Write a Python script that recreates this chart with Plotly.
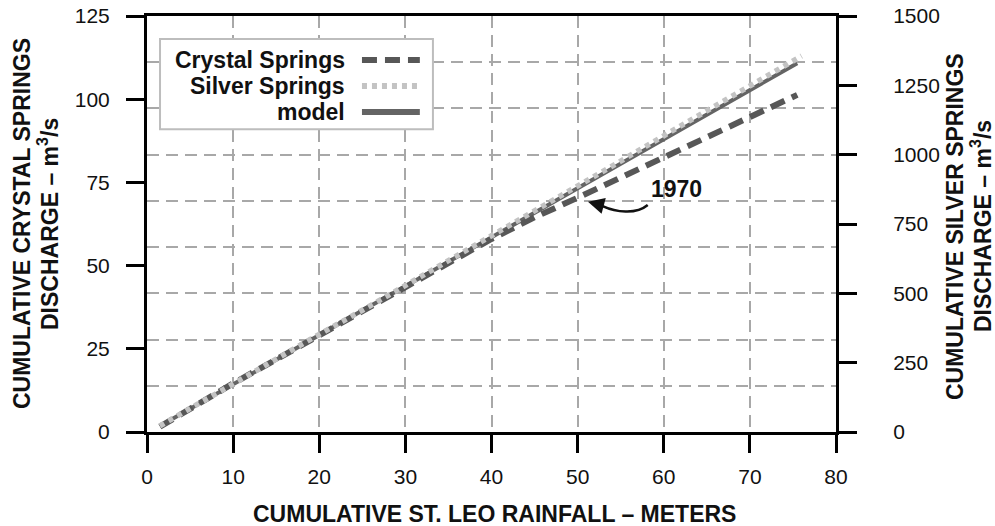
import plotly.graph_objects as go

# ---- data ----
rainfall = [1.5, 5, 10, 15, 20, 25, 30, 35, 40, 42, 45, 50, 55, 60, 65, 70, 75.5]
crystal = [1.6, 7.0, 14.6, 21.8, 29.1, 36.4, 43.7, 51.0, 58.0, 60.6, 64.5, 70.4, 76.4, 82.3, 88.4, 94.6, 101.3]
silver_rainfall = [1.5, 5, 10, 15, 20, 25, 30, 35, 40, 42, 45, 50, 55, 60, 65, 70, 76]
silver = [22, 85, 176, 264, 352, 439, 528, 618, 708, 743, 797, 887, 977, 1068, 1158, 1250, 1356]
model = [1.8, 7.0, 14.5, 21.8, 29.2, 36.5, 43.8, 51.2, 58.6, 61.5, 65.9, 73.2, 80.6, 88.0, 95.3, 102.7, 110.8]

x_ticks = [0, 10, 20, 30, 40, 50, 60, 70, 80]
y_ticks = [0, 25, 50, 75, 100, 125]
y2_ticks = [0, 250, 500, 750, 1000, 1250, 1500]

series_names = ["Crystal Springs", "Silver Springs", "model"]
annotation_label = "1970"
left_title = ["CUMULATIVE CRYSTAL SPRINGS", "DISCHARGE – m<sup>3</sup>/s"]
right_title = ["CUMULATIVE SILVER SPRINGS", "DISCHARGE – m<sup>3</sup>/s"]
x_title = "CUMULATIVE ST. LEO RAINFALL – METERS"

FONT = "Liberation Sans, Arial, Helvetica, sans-serif"
C_CRYSTAL = "#575757"
C_SILVER = "#c3c3c3"
C_MODEL = "#646464"
GRID = "#a8a8a8"

fig = go.Figure()
fig.add_trace(go.Scatter(x=rainfall, y=model, mode="lines", name=series_names[2],
                         line=dict(color=C_MODEL, width=4), showlegend=False))
fig.add_trace(go.Scatter(x=rainfall, y=crystal, mode="lines", name=series_names[0],
                         line=dict(color=C_CRYSTAL, width=6, dash="15px,8px"), showlegend=False))
fig.add_trace(go.Scatter(x=silver_rainfall, y=silver, mode="lines", name=series_names[1], yaxis="y2",
                         line=dict(color=C_SILVER, width=5.5, dash="5px,5px"), showlegend=False))

tickfont = dict(family=FONT, size=21, color="#111")

fig.update_layout(
    width=995, height=526,
    margin=dict(l=147, r=159, t=16, b=94, autoexpand=False),
    paper_bgcolor="white", plot_bgcolor="white",
    showlegend=False,
    xaxis=dict(range=[0, 80], tickvals=x_ticks, ticks="outside", ticklen=18, tickwidth=3,
               tickcolor="black", showline=True, linewidth=3, linecolor="black", mirror=True,
               showgrid=True, gridcolor=GRID, gridwidth=1.5, griddash="12px,7px",
               zeroline=False, tickfont=tickfont, ticklabelstandoff=6, automargin=False),
    yaxis=dict(range=[0, 125], tickvals=y_ticks, ticks="outside", ticklen=18, tickwidth=3,
               tickcolor="black", showline=True, linewidth=3, linecolor="black",
               showgrid=False, zeroline=False, tickfont=tickfont, ticklabelstandoff=12,
               automargin=False,
               minor=dict(dtick=125 / 9, tick0=0, showgrid=True, gridcolor=GRID,
                          gridwidth=1.5, griddash="12px,7px", ticks="")),
    yaxis2=dict(range=[0, 1500], tickvals=y2_ticks, overlaying="y", side="right",
                ticks="outside", ticklen=18, tickwidth=3, tickcolor="black",
                showline=True, linewidth=3, linecolor="black", showgrid=False,
                zeroline=False, tickfont=tickfont, ticklabelstandoff=32, automargin=False),
)

# ---- axis titles (one annotation per line) ----
tfont = dict(family=FONT, size=23, color="#111")
for xp, txt in zip([-0.1814, -0.1437], left_title):
    fig.add_annotation(xref="paper", yref="paper", x=xp, y=0.5, xanchor="center", yanchor="middle",
                       textangle=-90, showarrow=False, font=tfont, text="<b>" + txt + "</b>")
for xp, txt in zip([1.1727, 1.2105], right_title):
    fig.add_annotation(xref="paper", yref="paper", x=xp, y=0.495, xanchor="center", yanchor="middle",
                       textangle=-90, showarrow=False, font=tfont, text="<b>" + txt + "</b>")
fig.add_annotation(xref="paper", yref="paper", x=0.505, y=-0.197, xanchor="center", yanchor="middle",
                   showarrow=False, font=tfont, text="<b>" + x_title + "</b>")

# ---- 1970 annotation with curved arrow ----
fig.add_annotation(x=61.5, y=73, xref="x", yref="y", showarrow=False, font=tfont,
                   text="<b>" + annotation_label + "</b>")
fig.add_shape(type="path", xref="x", yref="y",
              path="M 58.14,68.2 C 56.74,65.2 54.42,66.1 52.9,67.9",
              line=dict(color="#111", width=2.5))
fig.add_annotation(x=51.2, y=69.2, xref="x", yref="y", ax=15, ay=4, text="",
                   showarrow=True, arrowhead=2, arrowsize=1.3, arrowwidth=2.5, arrowcolor="#111")

# ---- manual legend (symbols on the right, as in the reference) ----
fig.add_shape(type="rect", xref="paper", yref="paper", x0=0.0189, x1=0.415, y0=0.728, y1=0.945,
              line=dict(color="#bdbdbd", width=2), fillcolor="white", layer="above")
rows_y = [0.894, 0.832, 0.769]
styles = [dict(color=C_CRYSTAL, width=6, dash="15px,8px"),
          dict(color=C_SILVER, width=6, dash="5px,5px"),
          dict(color=C_MODEL, width=6)]
for name, ry, st in zip(series_names, rows_y, styles):
    fig.add_annotation(xref="paper", yref="paper", x=0.290, y=ry, xanchor="right", yanchor="middle",
                       showarrow=False, font=tfont, text="<b>" + name + "</b>")
    fig.add_shape(type="line", xref="paper", yref="paper", x0=0.312, x1=0.396, y0=ry, y1=ry,
                  line=st, layer="above")

fig.write_html("out.html")
